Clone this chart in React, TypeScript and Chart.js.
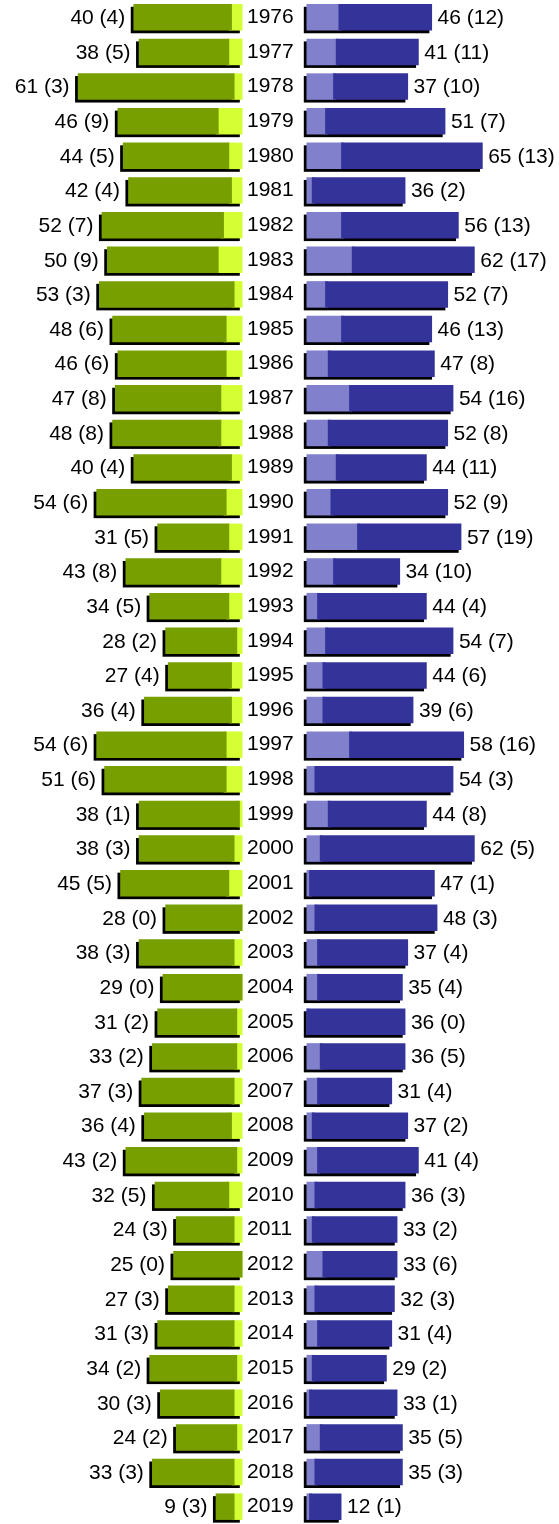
import React, { useEffect, useRef } from "react";
import { Chart, registerables } from "chart.js";

Chart.register(...registerables);

const years = [
  "1976", "1977", "1978", "1979", "1980", "1981", "1982", "1983", "1984", "1985",
  "1986", "1987", "1988", "1989", "1990", "1991", "1992", "1993", "1994", "1995",
  "1996", "1997", "1998", "1999", "2000", "2001", "2002", "2003", "2004", "2005",
  "2006", "2007", "2008", "2009", "2010", "2011", "2012", "2013", "2014", "2015",
  "2016", "2017", "2018", "2019",
];

const greenTotals = [
  40, 38, 61, 46, 44, 42, 52, 50, 53, 48,
  46, 47, 48, 40, 54, 31, 43, 34, 28, 27,
  36, 54, 51, 38, 38, 45, 28, 38, 29, 31,
  33, 37, 36, 43, 32, 24, 25, 27, 31, 34,
  30, 24, 33, 9,
];
const greenParts = [
  4, 5, 3, 9, 5, 4, 7, 9, 3, 6,
  6, 8, 8, 4, 6, 5, 8, 5, 2, 4,
  4, 6, 6, 1, 3, 5, 0, 3, 0, 2,
  2, 3, 4, 2, 5, 3, 0, 3, 3, 2,
  3, 2, 3, 3,
];
const blueTotals = [
  46, 41, 37, 51, 65, 36, 56, 62, 52, 46,
  47, 54, 52, 44, 52, 57, 34, 44, 54, 44,
  39, 58, 54, 44, 62, 47, 48, 37, 35, 36,
  36, 31, 37, 41, 36, 33, 33, 32, 31, 29,
  33, 35, 35, 12,
];
const blueParts = [
  12, 11, 10, 7, 13, 2, 13, 17, 7, 13,
  8, 16, 8, 11, 9, 19, 10, 4, 7, 6,
  6, 16, 3, 8, 5, 1, 3, 4, 4, 0,
  5, 4, 2, 4, 3, 2, 6, 3, 4, 2,
  1, 5, 3, 1,
];

const GREEN_DARK = "#779f00";
const GREEN_LIGHT = "#d4ff33";
const BLUE_DARK = "#333399";
const BLUE_LIGHT = "#8080cc";
const FONT = '"Liberation Sans", Arial, Helvetica, sans-serif';
const FONT_SIZE = 21;
const INFLATE = 1.5;
const SHADOW = 2.7;

function barPlugin(side: "left" | "right", totals: number[], parts: number[]) {
  return {
    id: "bars_" + side,
    beforeDatasetsDraw(chart: any) {
      const meta = chart.getDatasetMeta(0);
      const xs = chart.scales.x;
      const ctx = chart.ctx;
      ctx.save();
      ctx.fillStyle = "#000";
      meta.data.forEach((el: any, i: number) => {
        const p = el.getProps(["y", "height"], true);
        const a = xs.getPixelForValue(0);
        const b = xs.getPixelForValue(totals[i]);
        const x1 = Math.min(a, b) - INFLATE;
        const x2 = Math.max(a, b) + INFLATE;
        const y1 = p.y - p.height / 2 - INFLATE;
        const h = p.height + 2 * INFLATE;
        ctx.fillRect(x1 - SHADOW, y1 + SHADOW, x2 - x1, h);
      });
      ctx.restore();
    },
    afterDatasetsDraw(chart: any) {
      const meta = chart.getDatasetMeta(0);
      const xs = chart.scales.x;
      const ctx = chart.ctx;
      ctx.save();
      ctx.fillStyle = "#000";
      ctx.font = `${FONT_SIZE}px ${FONT}`;
      ctx.textBaseline = "middle";
      meta.data.forEach((el: any, i: number) => {
        const p = el.getProps(["y"], true);
        const x = xs.getPixelForValue(totals[i]);
        const text = `${totals[i]} (${parts[i]})`;
        if (side === "left") {
          ctx.textAlign = "right";
          ctx.fillText(text, x - INFLATE - SHADOW - 5.5, p.y + 1);
        } else {
          ctx.textAlign = "left";
          ctx.fillText(text, x + INFLATE + 5.5, p.y + 1);
        }
      });
      ctx.restore();
    },
  };
}

function makeConfig(side: "left" | "right") {
  const totals = side === "left" ? greenTotals : blueTotals;
  const parts = side === "left" ? greenParts : blueParts;
  const darkRanges = totals.map((t, i) => [parts[i], t]);
  const lightRanges = parts.map((p) => [0, p]);
  const light = side === "left" ? GREEN_LIGHT : BLUE_LIGHT;
  const dark = side === "left" ? GREEN_DARK : BLUE_DARK;
  const common = {
    barThickness: 23.5,
    inflateAmount: INFLATE,
    borderWidth: 0,
    grouped: false,
    clip: false as any,
  };
  const yAxis: any = {
    type: "category",
    display: side === "right",
    position: "left",
    offset: true,
    grid: { display: false, drawTicks: false },
    border: { display: false },
    ticks: {
      autoSkip: false,
      crossAlign: "far",
      padding: 0,
      color: "#000",
      font: { family: FONT, size: FONT_SIZE },
    },
  };
  if (side === "right") {
    yAxis.afterFit = (s: any) => {
      s.width = 61;
      s.paddingTop = 0;
      s.paddingBottom = 0;
    };
  }
  return {
    type: "bar" as const,
    data: {
      labels: years,
      datasets: [
        // drawn last (on top): darker remainder
        { label: "total", data: darkRanges, backgroundColor: dark, ...common },
        // drawn first: lighter part next to the centre
        { label: "part", data: lightRanges, backgroundColor: light, ...common },
      ],
    },
    options: {
      indexAxis: "y" as const,
      animation: false as const,
      responsive: false,
      maintainAspectRatio: false,
      layout: {
        padding: side === "left" ? { left: 0, right: 2, top: 0, bottom: 0 } : { left: 4, right: 0, top: 0, bottom: 0 },
      },
      plugins: {
        legend: { display: false },
        tooltip: { enabled: false },
      },
      scales: {
        x: {
          type: "linear" as const,
          display: false,
          reverse: side === "left",
          min: 0,
          max: side === "left" ? 90.9 : 94.2,
        },
        y: yAxis,
      },
    },
    plugins: [barPlugin(side, totals, parts)],
  };
}

function HalfChart({ side, width }: { side: "left" | "right"; width: number }) {
  const ref = useRef<HTMLCanvasElement | null>(null);
  useEffect(() => {
    if (!ref.current) return;
    const chart = new Chart(ref.current, makeConfig(side) as any);
    return () => chart.destroy();
  }, [side]);
  return <canvas ref={ref} width={width} height={1524} style={{ display: "block", width, height: 1524 }} />;
}

export default function App() {
  return (
    <div
      style={{
        position: "absolute",
        left: 0,
        top: 0,
        width: 559,
        height: 1524,
        background: "#fff",
        display: "flex",
        flexDirection: "row",
      }}
    >
      <HalfChart side="left" width={243} />
      <HalfChart side="right" width={316} />
    </div>
  );
}
